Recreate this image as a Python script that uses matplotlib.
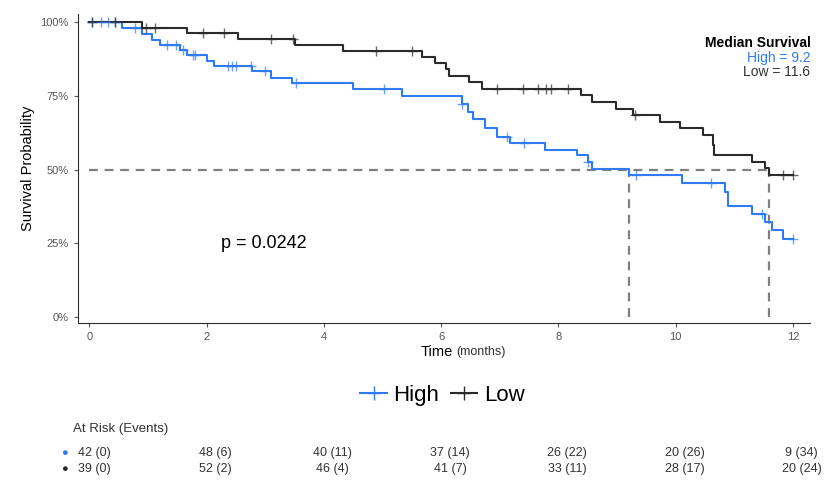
import matplotlib.pyplot as plt
import matplotlib.transforms as mtransforms

plt.rcParams['font.family'] = ['Liberation Sans', 'DejaVu Sans']

# step change points (time in months, survival %)
high_t = [0, 0.55, 0.9, 1.06, 1.21, 1.54, 1.67, 2.0, 2.13, 2.78, 3.09, 3.46, 4.49, 5.34,
          6.35, 6.45, 6.55, 6.75, 6.95, 7.17, 7.77, 8.31, 8.5, 8.58, 9.2, 10.1, 10.84, 10.9,
          11.3, 11.52, 11.64, 11.83, 12.0]
high_s = [100, 98, 96, 94, 92.4, 90.7, 89, 86.9, 85.1, 83.4, 81.1, 79.2, 77.2, 74.9,
          72.1, 69.5, 67.3, 64, 61.2, 59.1, 56.6, 54.9, 52.7, 50.1, 48.1, 45.5, 42.5, 37.6,
          34.9, 32.3, 29.5, 26.3, 26.3]
low_t = [0, 0.9, 1.67, 2.53, 3.51, 4.32, 5.68, 5.89, 6.09, 6.14, 6.48, 6.7, 8.39, 8.57,
         8.99, 9.27, 9.73, 10.07, 10.46, 10.63, 10.66, 11.3, 11.52, 11.6, 12.0]
low_s = [100, 98.1, 96.2, 94.2, 92.4, 90.3, 88.2, 86.2, 84, 81.6, 79.8, 77.5, 75.3, 73,
         70.7, 68.5, 66.2, 64, 61.7, 58.3, 54.9, 52.7, 50.4, 48.1, 48.1]
high_cens = [0.05, 0.19, 0.31, 0.44, 0.78, 1.33, 1.48, 1.6, 1.77, 1.8, 2.36, 2.44, 2.5, 2.76,
             2.99, 3.53, 5.03, 6.35, 7.13, 7.42, 8.5, 9.33, 10.61, 11.47, 12.0]
low_cens = [0.05, 0.44, 0.96, 1.11, 1.93, 2.3, 3.1, 3.47, 4.88, 5.5, 6.96, 7.39, 7.65,
            7.79, 7.88, 8.16, 9.3, 11.83, 12.0]
risk_times = [0, 2, 4, 6, 8, 10, 12]
risk_high = ['42 (0)', '48 (6)', '40 (11)', '37 (14)', '26 (22)', '20 (26)', '9 (34)']
risk_low = ['39 (0)', '52 (2)', '46 (4)', '41 (7)', '33 (11)', '28 (17)', '20 (24)']

blue = '#2f7bf5'
dark = '#2b2b2b'
grey = '#808080'


def surv_at(ts, ss, t):
    val = ss[0]
    for ti, si in zip(ts, ss):
        if ti <= t:
            val = si
    return val


fig = plt.figure(figsize=(8.27, 4.9), dpi=100)
ax = fig.add_axes([0.094, 0.341, 0.886, 0.63])

ax.plot([0, 11.6], [50, 50], ls=(0, (4, 3)), color=grey, lw=1.6)
ax.plot([9.2, 9.2], [0, 50], ls=(0, (4, 3)), color=grey, lw=1.6)
ax.plot([11.6, 11.6], [0, 50], ls=(0, (4, 3)), color=grey, lw=1.6)

ax.step(high_t, high_s, where='post', color=blue, lw=1.5)
ax.step(low_t, low_s, where='post', color=dark, lw=1.5)
ax.plot(high_cens, [surv_at(high_t, high_s, t) for t in high_cens], '+', color=blue,
        ms=7, mew=1, alpha=0.7)
ax.plot(low_cens, [surv_at(low_t, low_s, t) for t in low_cens], '+', color=dark,
        ms=7, mew=1, alpha=0.7)

ax.set_xlim(-0.2, 12.3)
ax.set_ylim(-2, 102.7)
ax.set_xticks([0, 2, 4, 6, 8, 10, 12])
ax.set_yticks([0, 25, 50, 75, 100])
ax.set_yticklabels(['0%', '25%', '50%', '75%', '100%'])
ax.tick_params(labelsize=8, colors='#555555', length=3)
for s in ['top', 'right']:
    ax.spines[s].set_visible(False)
ax.spines['left'].set_color(dark)
ax.spines['bottom'].set_color(dark)
ax.set_ylabel('Survival Probability', fontsize=10.5)
ax.set_xlabel('')
ax.text(6.2, -9.5, 'Time', ha='right', va='top', fontsize=10.5)
ax.text(6.25, -9.9, '(months)', ha='left', va='top', fontsize=9, color='#333333')

ax.text(2.97, 25, 'p = 0.0242', fontsize=13, ha='center', va='center')
ax.text(12.3, 93, 'Median Survival', fontsize=10, weight='bold', ha='right', va='center')
ax.text(12.3, 88, 'High = 9.2', fontsize=10, color=blue, ha='right', va='center')
ax.text(12.3, 83, 'Low = 11.6', fontsize=10, color='#333333', ha='right', va='center')

hh, = ax.plot([], [], '-', marker='+', color=blue, ms=10, lw=1.5)
hl, = ax.plot([], [], '-', marker='+', color=dark, ms=10, lw=1.5)
fig.legend([hh, hl], ['High', 'Low'], loc='center', bbox_to_anchor=(0.535, 0.193),
           ncol=2, frameon=False, fontsize=16, handlelength=1.2, columnspacing=0.5,
           handletextpad=0.3)

fig.text(0.088, 0.118, 'At Risk (Events)', fontsize=9.5, color='#333333')
trans = mtransforms.blended_transform_factory(ax.transData, fig.transFigure)
for y, col, labels in [(0.075, blue, risk_high), (0.043, dark, risk_low)]:
    fig.text(0.074, y, '\u25cf', color=col, fontsize=8, va='center')
    for i, (t, lab) in enumerate(zip(risk_times, labels)):
        x = t + 0.15 if i > 0 else -0.2
        ha = 'center' if i > 0 else 'left'
        ax.text(x, y, lab, transform=trans, fontsize=9, ha=ha, va='center',
                color='#333333', clip_on=False)

fig.savefig('out.png', dpi=100)
